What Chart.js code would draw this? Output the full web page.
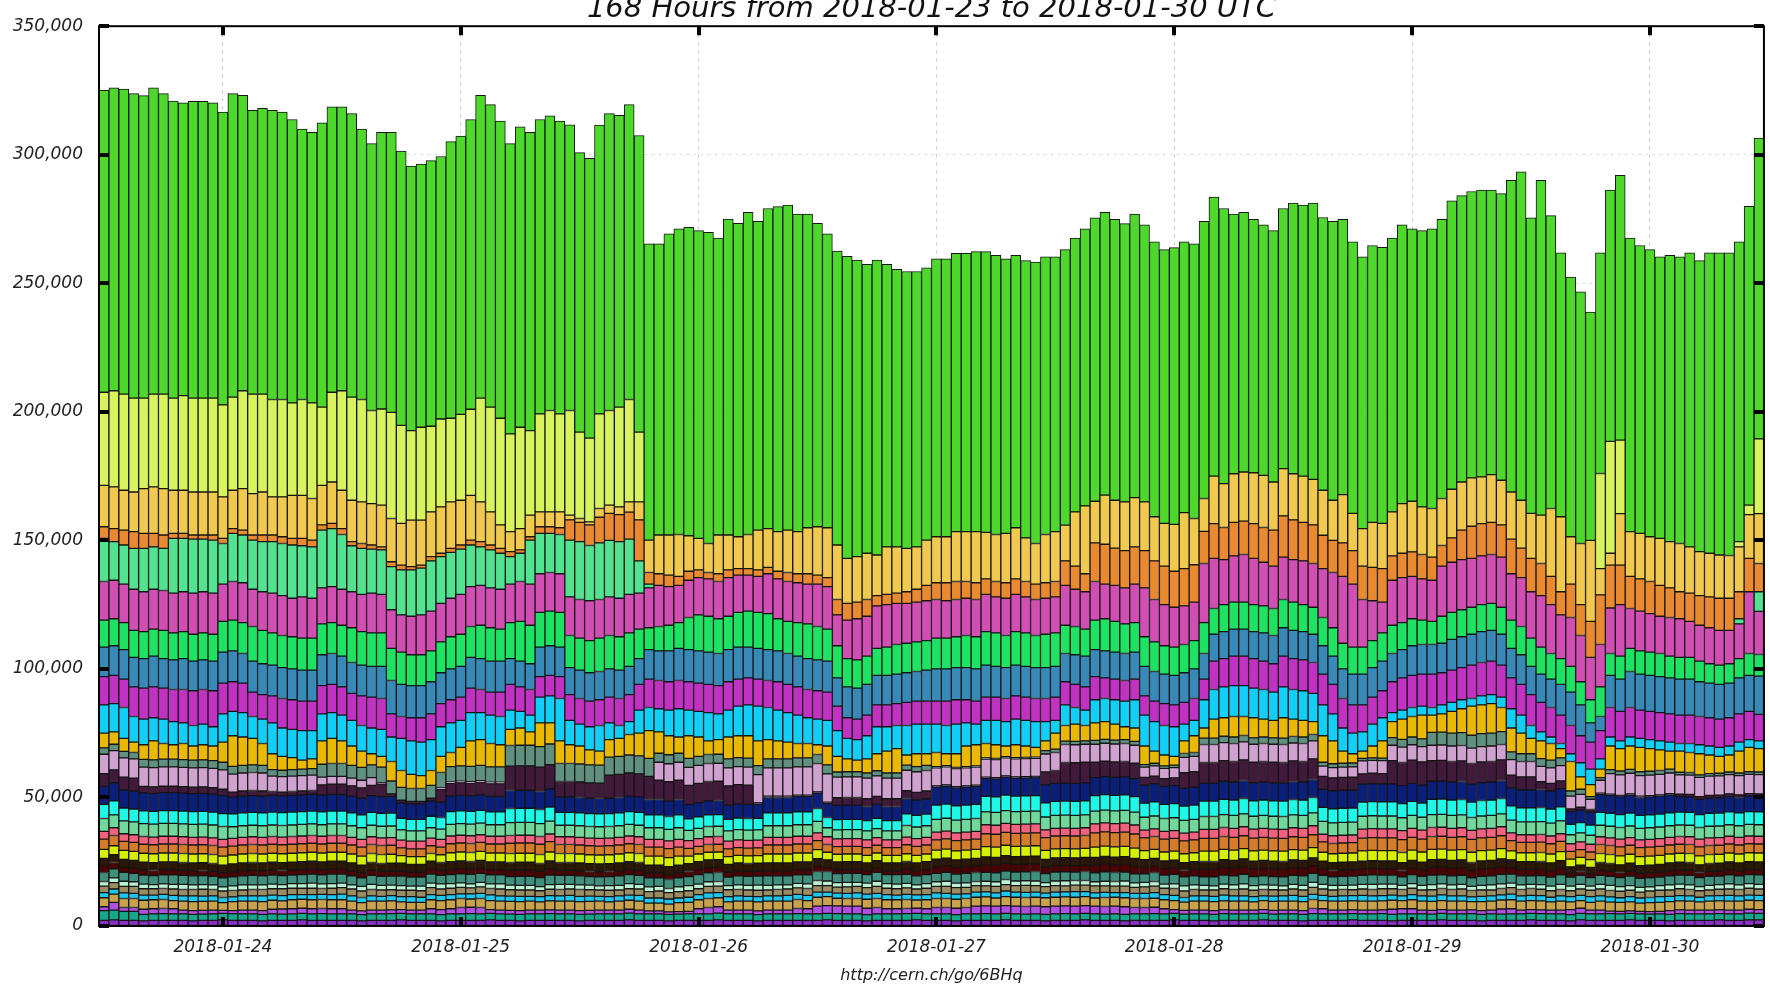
<!DOCTYPE html>
<html>
<head>
<meta charset="utf-8">
<title>168 Hours from 2018-01-23 to 2018-01-30 UTC</title>
<script src="https://cdn.jsdelivr.net/npm/chart.js@4.4.0/dist/chart.umd.min.js"></script>
<style>
  html, body { margin: 0; padding: 0; background: #fff; }
  canvas { display: block; }
</style>
</head>
<body>
<canvas id="chart" width="1770" height="987"></canvas>
<script>
// hourly bars, first bar = 2018-01-23 12:00 UTC, 168 bars
const firstHour = Date.UTC(2018, 0, 23, 12);
const barCount = 168;
const dayTicks = ['2018-01-24', '2018-01-25', '2018-01-26', '2018-01-27', '2018-01-28', '2018-01-29', '2018-01-30'];
const yTicks = [0, 50000, 100000, 150000, 200000, 250000, 300000, 350000];
const chartTitle = '168 Hours from 2018-01-23 to 2018-01-30 UTC';
const footer = 'http://cern.ch/go/6BHq';

// ---- thin bottom layers: thickness per hour, in thousands ----
const purpleLow = [
  2.2,2.4,2.2,2.2,2.0,2.2,2.2,2.2,2.2,2.0,2.2,2.2,2.4,2.2,2.2,2.2,2.0,2.2,2.2,2.2,2.4,2.2,2.2,2.2,
  2.2,2.2,2.0,2.2,2.2,2.2,2.4,2.2,2.2,2.2,2.0,2.2,2.2,2.2,2.2,2.4,2.2,2.2,2.0,2.2,2.2,2.2,2.2,2.2,
  2.0,2.2,2.2,2.2,2.2,2.4,2.2,2.2,2.2,2.0,2.2,2.2,2.2,2.2,2.4,2.2,2.2,2.2,2.0,2.2,2.2,2.2,2.2,2.2,
  2.2,2.4,2.2,2.2,2.2,2.0,2.2,2.2,2.2,2.2,2.4,2.2,2.2,2.2,2.0,2.2,2.2,2.2,2.2,2.4,2.2,2.2,2.2,2.0,
  2.2,2.2,2.2,2.4,2.2,2.2,2.2,2.0,2.2,2.2,2.2,2.2,2.4,2.2,2.2,2.2,2.0,2.2,2.2,2.2,2.2,2.4,2.2,2.2,
  2.2,2.0,2.2,2.2,2.2,2.2,2.4,2.2,2.2,2.2,2.0,2.2,2.2,2.2,2.2,2.4,2.2,2.2,2.2,2.0,2.2,2.2,2.2,2.2,
  2.4,2.2,2.2,2.2,2.0,2.4,2.2,2.2,2.2,2.2,2.4,2.2,2.2,2.2,2.0,2.2,2.2,2.2,2.2,2.4,2.2,2.2,2.4,2.4
];
const tealLow = [
  3.8,3.8,3.5,3.5,2.5,2.5,2.6,2.5,2.5,2.5,2.4,2.5,2.5,2.6,2.5,2.5,2.5,2.5,2.4,2.5,2.5,2.5,2.6,2.5,
  2.5,2.5,2.4,2.5,2.5,2.6,2.5,2.5,2.5,2.5,2.4,2.5,2.5,2.6,2.5,2.5,2.5,2.4,2.5,2.5,2.5,2.6,2.5,2.5,
  2.5,2.4,2.5,2.5,2.5,2.6,2.5,2.5,2.5,2.5,2.4,2.5,2.5,2.5,2.6,2.5,2.5,2.5,2.4,2.5,2.5,2.5,2.6,2.5,
  2.5,2.5,2.6,2.5,2.5,2.4,2.5,2.5,2.5,2.6,2.5,2.5,2.5,2.5,2.4,2.5,2.5,2.6,2.5,2.5,2.5,2.4,2.5,2.5,
  2.5,2.6,2.5,2.5,2.5,2.4,2.5,2.5,2.5,2.5,2.6,2.5,2.5,2.4,2.5,2.5,2.5,2.6,2.5,2.5,2.5,2.5,2.4,2.5,
  2.5,2.5,2.6,2.5,2.5,2.5,2.4,2.5,2.5,2.6,2.5,2.5,2.5,2.5,2.4,2.5,2.5,2.5,2.6,2.5,2.5,2.4,2.5,2.5,
  2.5,2.6,2.5,2.5,2.4,2.5,2.5,2.5,2.6,2.5,2.5,2.5,2.4,2.5,2.5,2.6,2.5,2.5,2.5,2.4,2.5,2.5,2.6,2.5
];
const violetLow = [
  1.5,3.0,1.5,1.5,2.0,2.0,2.0,2.0,1.5,1.5,1.5,1.5,1.2,1.2,1.5,1.5,1.5,1.8,2.0,2.0,2.0,2.0,2.0,2.0,
  2.0,1.5,1.5,1.5,1.5,1.5,1.5,1.5,1.5,2.0,2.0,2.0,2.5,2.5,2.5,1.5,1.5,1.5,1.5,1.5,1.5,1.5,1.5,1.5,
  1.5,1.5,1.5,1.5,1.5,1.5,1.5,1.2,1.2,1.0,1.0,1.0,2.0,2.5,2.5,1.5,1.5,1.5,1.5,1.5,1.5,1.5,2.0,2.0,
  3.0,3.0,3.0,3.0,3.0,2.5,2.5,2.0,2.0,2.0,2.0,2.0,2.5,2.5,2.5,2.5,3.0,3.0,3.0,3.0,3.0,3.0,3.0,3.0,
  3.0,3.0,3.0,3.0,3.0,3.0,3.0,3.0,2.5,2.5,2.5,2.0,1.5,1.5,1.5,1.5,1.5,1.5,1.5,1.5,1.5,1.5,1.5,1.5,
  1.5,1.5,2.0,2.0,1.5,1.5,1.5,1.5,1.5,1.5,2.0,2.0,2.0,1.5,1.5,1.5,1.5,1.5,1.5,1.5,1.5,2.0,2.0,1.5,
  1.5,1.5,1.5,1.5,2.0,2.0,1.5,1.5,1.0,1.0,1.0,1.0,1.0,1.0,1.5,1.5,1.5,1.5,1.5,1.5,1.5,1.5,1.5,1.5
];
const tanLow = [
  3.5,3.2,3.5,3.5,3.5,3.5,3.5,3.2,3.5,3.5,3.5,3.5,3.0,3.5,3.5,3.5,3.5,3.5,3.2,3.5,3.5,3.5,3.5,3.5,
  3.5,3.5,3.2,3.5,3.5,3.5,3.0,3.0,3.0,3.5,3.5,3.5,3.5,3.2,3.5,3.5,3.5,3.5,3.5,3.5,3.2,3.5,3.5,3.5,
  3.5,3.5,3.5,3.2,3.5,3.5,3.5,3.0,3.0,3.0,3.5,3.5,3.5,3.5,3.5,3.2,3.5,3.5,3.5,3.5,3.5,3.5,3.5,3.2,
  3.5,3.5,3.0,3.0,3.0,3.5,3.5,3.5,3.5,3.5,3.2,3.5,3.5,3.5,3.5,3.5,3.5,3.5,3.2,3.5,3.5,3.5,3.5,3.5,
  3.5,3.5,3.5,3.5,3.2,3.5,3.5,3.5,3.5,3.5,3.5,3.5,3.5,3.2,3.5,3.5,3.5,3.5,3.5,3.5,3.2,3.5,3.5,3.5,
  3.5,3.5,3.5,3.2,3.5,3.5,3.5,3.5,3.5,3.5,3.5,3.2,3.5,3.5,3.5,3.5,3.5,3.5,3.2,3.5,3.5,3.5,3.5,3.5,
  3.5,3.5,3.2,3.5,3.0,3.0,3.0,3.5,3.5,3.5,3.5,3.2,3.5,3.5,3.5,3.5,3.5,3.2,3.5,3.5,3.5,3.5,3.5,3.5
];
const cyanLow = [
  2.0,2.0,2.2,2.0,2.0,1.8,2.0,2.0,2.0,2.2,2.0,2.0,2.0,1.8,2.0,2.0,2.2,2.0,2.0,2.0,1.8,2.0,2.0,2.0,
  2.2,2.0,2.0,2.0,1.8,2.0,2.0,2.2,2.0,2.0,2.0,2.0,1.8,2.0,2.0,2.2,2.0,2.0,2.0,1.8,2.0,2.0,2.0,2.2,
  2.0,2.0,1.8,2.0,2.0,2.0,2.2,2.0,2.0,2.0,1.8,2.0,2.0,2.2,2.0,2.0,2.0,1.8,2.0,2.0,2.0,2.2,2.0,2.0,
  2.0,1.8,2.0,2.0,2.2,2.0,2.0,2.0,1.8,2.0,2.0,2.0,2.2,2.0,2.0,1.8,2.0,2.0,2.0,2.2,2.0,2.0,2.0,1.8,
  2.0,2.0,2.2,2.0,2.0,2.0,1.8,2.0,2.0,2.0,2.2,2.0,2.0,1.8,2.0,2.0,2.0,2.2,2.0,2.0,2.0,1.8,2.0,2.0,
  2.2,2.0,2.0,2.0,1.8,2.0,2.0,2.2,2.0,2.0,2.0,1.8,2.0,2.0,2.0,2.2,2.0,2.0,1.8,2.0,2.0,2.0,2.2,2.0,
  2.0,2.0,1.8,2.0,2.0,2.0,2.2,2.0,2.0,1.8,2.0,2.0,2.0,2.2,2.0,2.0,2.0,1.8,2.0,2.0,2.2,2.0,2.0,2.0
];
const khakiLow = [
  2.5,2.5,2.5,2.7,2.5,2.5,2.3,2.5,2.5,2.5,2.7,2.5,2.5,2.5,2.3,2.5,2.5,2.5,2.7,2.5,2.5,2.5,2.3,2.5,
  2.5,2.7,2.5,2.5,2.5,2.3,2.5,2.5,2.5,2.7,2.5,2.5,2.5,2.3,2.5,2.5,2.7,2.5,2.5,2.5,2.3,2.5,2.5,2.5,
  2.7,2.5,2.5,2.5,2.3,2.5,2.5,2.5,2.7,2.5,2.5,2.5,2.3,2.5,2.5,2.7,2.5,2.5,2.5,2.3,2.5,2.5,2.5,2.7,
  2.5,2.5,2.3,2.5,2.5,2.5,2.7,2.5,2.5,2.5,2.3,2.5,2.5,2.7,2.5,2.5,2.5,2.3,2.5,2.5,2.5,2.7,2.5,2.5,
  2.5,2.3,2.5,2.5,2.7,2.5,2.5,2.5,2.3,2.5,2.5,2.5,2.7,2.5,2.5,2.3,2.5,2.5,2.5,2.7,2.5,2.5,2.5,2.3,
  2.5,2.5,2.7,2.5,2.5,2.5,2.3,2.5,2.5,2.7,2.5,2.5,2.5,2.3,2.5,2.5,2.5,2.7,2.5,2.5,2.3,2.5,2.5,2.5,
  2.7,2.5,2.5,2.5,2.3,2.5,2.5,2.7,2.5,2.5,2.5,2.3,2.5,2.5,2.5,2.7,2.5,2.5,2.3,2.5,2.5,2.5,2.7,2.5
];
const paleMintLow = [
  1.8,1.8,2.0,1.8,1.8,1.6,1.8,1.8,2.0,1.8,1.8,1.8,1.6,1.8,2.0,1.8,1.8,1.8,1.6,1.8,1.8,2.0,1.8,1.8,
  1.8,1.6,1.8,2.0,1.8,1.8,1.8,1.6,1.8,1.8,2.0,1.8,1.8,1.6,1.8,1.8,2.0,1.8,1.8,1.8,1.6,1.8,2.0,1.8,
  1.8,1.8,1.6,1.8,1.8,2.0,1.8,1.8,1.8,1.6,1.8,2.0,1.8,1.8,1.8,1.6,1.8,1.8,2.0,1.8,1.8,1.6,1.8,1.8,
  2.0,1.8,1.8,1.8,1.6,1.8,2.0,1.8,1.8,1.8,1.6,1.8,1.8,2.0,1.8,1.8,1.6,1.8,1.8,2.0,1.8,1.8,1.8,1.6,
  1.8,2.0,1.8,1.8,1.6,1.8,1.8,2.0,1.8,1.8,1.8,1.6,1.8,2.0,1.8,1.8,1.6,1.8,1.8,2.0,1.8,1.8,1.8,1.6,
  1.8,1.8,2.0,1.8,1.8,1.6,1.8,1.8,2.0,1.8,1.8,1.6,1.8,1.8,2.0,1.8,1.8,1.8,1.6,1.8,2.0,1.8,1.8,1.8,
  1.6,1.8,1.8,2.0,1.8,1.8,1.6,1.8,2.0,1.8,1.8,1.8,1.6,1.8,2.0,1.8,1.8,1.6,1.8,1.8,2.0,1.8,1.8,1.8
];
const tealGrayLow = [
  3.5,3.5,3.5,3.3,3.5,3.5,3.5,3.7,3.5,3.5,3.5,3.3,3.5,3.5,3.5,3.7,3.5,3.5,3.5,3.3,3.5,3.5,3.5,3.7,
  3.5,3.5,3.3,3.5,3.5,3.5,3.7,3.5,3.5,3.5,3.3,3.5,3.5,3.7,3.5,3.5,3.5,3.3,3.5,3.5,3.5,3.7,3.5,3.5,
  3.5,3.3,3.5,3.5,3.7,3.5,3.5,3.5,3.3,3.5,3.5,3.5,3.7,3.5,3.5,3.3,3.5,3.5,3.5,3.7,3.5,3.5,3.3,3.5,
  3.5,3.7,3.5,3.5,3.5,3.3,3.5,3.5,3.7,3.5,3.5,3.5,3.3,3.5,3.5,3.7,3.5,3.5,3.5,3.3,3.5,3.5,3.7,3.5,
  3.5,3.5,3.3,3.5,3.5,3.7,3.5,3.5,3.5,3.3,3.5,3.5,3.7,3.5,3.5,3.3,3.5,3.5,3.5,3.7,3.5,3.5,3.3,3.5,
  3.5,3.7,3.5,3.5,3.3,3.5,3.5,3.5,3.7,3.5,3.5,3.3,3.5,3.5,3.7,3.5,3.5,3.5,3.3,3.5,3.5,3.7,3.5,3.5,
  3.3,3.5,3.5,3.7,3.5,3.5,3.3,3.5,3.5,3.5,3.7,3.5,3.5,3.3,3.5,3.5,3.7,3.5,3.5,3.3,3.5,3.5,3.5,3.7
];
const maroon = [
  2.5,2.5,2,2,2,2,2,2,2,2,2,2,2,2,2,2,2,2,2,2,2,2,2,2,
  2,2,2,2,2,2,2,2,2,2,2,2,2,2,2,2,2,2.5,2.5,2.5,2.5,2.5,2,2,
  2,2,2,2,2,2,2,2,2,2,2,2,2,2,2,2,2,2,2,2,2,2,2,2,
  2,1.5,1.5,1.5,1.5,1.5,1.5,1.5,1.5,2,2,2,2.5,2.5,2.5,2.5,2.5,3,3,3,3,3,3,2.5,
  2.5,2.5,2.5,2.5,3,3,3,3,3,2.5,2.5,2.5,2.5,2.5,2.5,3,3,3,3,3,3,3,3,3,
  3,3,3,2.5,2.5,2.5,2.5,2.5,2.5,2.5,2.5,2.5,2.5,2.5,3,3,3,3,3,3,3,3,2.5,2.5,
  2.5,2.5,2.5,2.5,1.5,1.5,1.5,2,2,2,2,2,2,2,2,2,2,2,2,2,2,2,2,2
];
const darkBrown = [
  3,3,3,3,3,3,3,3,3,3,3,3,3,3,3,3,3,3,3,3,3,3,3,3,
  3,3,3,3,3,3,3,3,3,3,3,3,3,3,3,3,3,3,3,3,3,3,3,3,
  3,3,3,3,3,3,3,3,3,3,3,3,3,3,3,3,3,3,3,3,3,3,3,3,
  3,3,3,3,3,3,3,3,3,3,3,3,3,3,3,3,3,3,3,3,3,3,3,3,
  3,3,3,3,3,3,3,3,3,3,3,3,3,3,3,3,3,3,3,3,3,3,3,3,
  3,3,3,3,3,3,3,3,3,3,3,3,3,3,3,3,3,3,3,3,3,3,3,3,
  3,3,3,3,2.5,2.5,2.5,3,3,3,3,3,3,3,3,3,3,3,3,3,3,3,3,3
];
const yellowLow = [
  3.5,3.5,3.5,3.5,3.5,3.5,3.5,3.5,3.5,3.5,3.5,3.5,3.5,3.5,3.5,3.5,3.5,3.5,3.5,3.5,3.5,3.5,3.5,3.5,
  3.5,3.5,3.5,3.5,3.5,3.5,3,3,3,3,3,3.5,3.5,3.5,3.5,3.5,3.5,3.5,3.5,3.5,3.5,3.5,3.5,3.5,
  3.5,3.5,3.5,3.5,3.5,3.5,3.5,3.5,3.5,3.5,3.5,3,3,3,3,3,3,3,3,3.5,3.5,3.5,3.5,3.5,
  3.5,3,3,3,3,3,3,3,3,3,3,3,3.5,3.5,3.5,3.5,3.5,4,4,4,4,4,4,3.5,
  3.5,3.5,3.5,3.5,4,4,4,4,4,3.5,3.5,3.5,3.5,3.5,3.5,4,4,4,4,4,4,4,4,4,
  4,4,4,3.5,3.5,3.5,3.5,4,4,4,4,4,4,4,4,4,4,4,4,4,4,4,3.5,3.5,
  3.5,3.5,3.5,3.5,3,3,3,3.5,3.5,3.5,3.5,3.5,3.5,3.5,3.5,3.5,3.5,3.5,3.5,3.5,3.5,3.5,3.5,3.5
];
const orangeLow = [
  4,4,3.5,3.5,3.5,3.5,3.5,3.5,3.5,3.5,3.5,3.5,3.5,3.5,3.5,3.5,3.5,3.5,3.5,3.5,3.5,3.5,3.5,3.5,
  3.5,3.5,3.5,3.5,3.5,3.5,3,3,3,3,3,3.5,3.5,3.5,3.5,3.5,3.5,4,4,4,4,4,3.5,3.5,
  3.5,3.5,3.5,3.5,3.5,3.5,3.5,3.5,3.5,3.5,3.5,3,3,3,3,3,3,3,3,3.5,3.5,3.5,3.5,3.5,
  3.5,3,3,3,3,3,3,3,3,3.5,3.5,3.5,4,4,4,4,4,5,5,5,5,5,5,5,
  5,5,5,5,5.5,5.5,5.5,5.5,5.5,5,5,5,5,5,5,5,5,5,5,5,5,5,5,5,
  5,5,5,4,4,4,4,5,5,5,5,5,5,5,5,5,5,5,5,5,5,5,4,4,
  4,4,4,4,3,3,3,3.5,3.5,3.5,3.5,3.5,3.5,3.5,3.5,3.5,3.5,3.5,3.5,3.5,3.5,3.5,3.5,3.5
];
const pinkRed = [
  3,3,3,3,3,3,3,3,3,3,3,3,3,3,3,3,3,3,3,3,3,3,3,3,
  3,3,3,3,3,3,3,3,3,3,3,3,3,3,3,3,3,3,3,3,3,3,3,3,
  3,3,3,3,3,3,3,3,3,3,3,3,3,3,3,3,3,3,3,3,3,3,3,3,
  3,3,3,3,3,3,3,3,3,3,3,3,3,3,3,3,3,3.5,3.5,3.5,3.5,3.5,3.5,3,
  3,3,3,3,3.5,3.5,3.5,3.5,3.5,3,3,3,3,3,3,3.5,3.5,3.5,3.5,3.5,3.5,3.5,3.5,3.5,
  3.5,3.5,3.5,3,3,3,3,3.5,3.5,3.5,3.5,3.5,3.5,3.5,3.5,3.5,3.5,3.5,3.5,3.5,3.5,3.5,3,3,
  3,3,3,3,3,3,3,3,3,3,3,3,3,3,3,3,3,3,3,3,3,3,3,3
];
const lightGreen = [
  5,5,5,5,5,5,5,5,5,5,5,5,5,4.5,4.5,4.5,4.5,4.5,4.5,4.5,4.5,4.5,4.5,4.5,
  4.5,4.5,4.5,4.5,4.5,4.5,4,4,4,4,4,4.5,4.5,4.5,4.5,4.5,4.5,5,5,5,5,5,4.5,4.5,
  4.5,4.5,4.5,4.5,4.5,4.5,4.5,4.5,4.5,4.5,4.5,4,4,4,4,4,4,4,4,4.5,4.5,4.5,4.5,4.5,
  4.5,3.5,3.5,3.5,3.5,3.5,3.5,3.5,3.5,4.5,4.5,4.5,5,5,5,5,5,5,5,5,5,5,5,5,
  5,5,5,5,5,5,5,5,5,5,5,5,5,5,5,5,5,5,5,5,5,5,5,5,
  5,5,5,5,5,5,5,5,5,5,5,5,5,5,5,5,5,5,5,5,5,5,5,5,
  5,5,5,5,3.5,3.5,3.5,4.5,4.5,4.5,4.5,4.5,4.5,4.5,4.5,4.5,4.5,4.5,4.5,4.5,4.5,4.5,4.5,4.5
];
const aqua = [
  5.5,5.5,5,5,5,5,5,5,5,5,5,5,5,5,5,5,5,5,5,5,5,5,5,5,
  5,5,5,5,5,5,4.5,4.5,4.5,4.5,4.5,5,5,5,5,5,5,5.5,5.5,5.5,5.5,5.5,5,5,
  5,5,5,5,5,5,5,5,5,5,5,4.5,4.5,4.5,4.5,4.5,4.5,4.5,4.5,5,5,5,5,5,
  5,4,4,4,4,4,4,4,4,4.5,4.5,4.5,5.5,5.5,5.5,5.5,5.5,6,6,6,6,6,6,5.5,
  5.5,5.5,5.5,5.5,6,6,6,6,6,5.5,5.5,5.5,5.5,5.5,5.5,6,6,6,6,6,6,6,6,6,
  6,6,6,5.5,5.5,5.5,5.5,5.5,5.5,5.5,5.5,5.5,5.5,5.5,6,6,6,6,6,6,6,6,5.5,5.5,
  5.5,5.5,5.5,5.5,4,4,4,5,5,5,5,5,5,5,5,5,5,5,5,5,5,5,5,5
];
const navy = [
  7,7,7,7,7,7,7,7,7,7,7,7,7,6.5,6.5,6.5,6.5,6.5,6.5,6.5,6.5,6.5,6.5,6.5,
  6.5,6.5,6.5,6.5,6.5,6.5,6,6,6,6,6,6,6,6,6,6,6,7,7,7,7,7,6,6,
  6,6,6,6,6,6,6,6,6,6,6,5.5,5.5,5.5,5.5,5.5,5.5,5.5,5.5,6,6,6,6,6,
  6,5.5,5.5,5.5,5.5,5.5,5.5,5.5,5.5,6,6,6,7,7,7,7,7,7,7,7,7,7,7,7,
  7,7,7,7,7,7,7,7,7,7,7,7,7,7,7,7,7,7,7,7,7,7,7,7,
  7,7,7,7,7,7,7,7,7,7,7,7,7,7,7,7,7,7,7,7,7,7,7,7,
  7,7,7,7,5,5,5,7,7,7,7,7,7,7,7,6,6,6,6,6,6,6,6,6
];
const plum = [
  5,5,5,5,2.5,2.5,2.5,2.5,2.5,2.5,2.5,2.5,2.5,2,2,2,2,1.5,1.5,1.5,1.5,1.5,4,4,
  4,4,4,4,5,1,1,1,1,1,5,5,5,5,5,5,5,9.5,9.5,9.5,9.5,9.5,6,6,
  6,6,6,9,9,9,9,9,7.5,7.5,7.5,7.5,7.5,7.5,7.5,7.5,7.5,7.5,0.5,0.5,0.5,0.5,0.5,0.5,
  0.5,0.5,3,3,3,3,3,3,3,3,3,3,0.5,0.5,0.5,0.5,0.5,0.5,0.5,0.5,0.5,0.5,0.5,5,
  5,8,8,8,6,6,6,6,6,3,3,3,3,6,6,8,8,8,8,8,8,8,8,8,
  8,8,8,5,5,5,5,4,4,4,9,9,9,9,8,8,8,8,8,8,8,8,5,5,
  5,3,3,3,1,1,1,0.5,0.5,0.5,0.5,0.5,0.5,0.5,0.5,1,1,1,1,1,1,1,1,1
];
const lilac = [
  7.5,7.5,7.5,7.5,7.5,7.5,7.5,7.5,7.5,7.5,7.5,7.5,7.5,7,7,7,7,6,6,6,6,6,3,3,
  3,3,3,3,0.5,0,0,0,0,0,0.5,0.5,0.5,0.5,0.5,0.5,0.5,0,0,0,0,0,0,0,
  0,0,0,0,0,0,0,0,7,7,7,7,7,7,7,7,7,7,11,11,11,11,11,11,
  11,11,8,8,8,8,8,8,8,8,8,8,7,7,7,7,7,7,7,7,7,7,7,7,
  7,7,7,7,7,7,7,7,7,4,4,4,4,6,6,7,7,7,7,7,7,7,7,7,
  7,7,7,4,4,4,4,5,5,5,6,6,6,6,6,6,6,6,6,6,6,6,6,6,
  6,6,6,6,5,5,4,5,8,8,8,8,8,8,8,7.5,7.5,7.5,7.5,7.5,7.5,7.5,7.5,7.5
];
const grayGreen = [
  2.5,2.5,2.5,2.5,3,3,3,3,3,3,3,3,3,3,3,3,3,2.5,2.5,2.5,2.5,2.5,5,5,
  5,5,5,5,6,5,5,5,5,5,6,6,6,6,6,6,6,8,8,8,8,8,7,7,
  7,7,7,7,7,7,7,7,3.5,3.5,3.5,3.5,3.5,3.5,3.5,3.5,3.5,3.5,3.5,3.5,3.5,3.5,3.5,3.5,
  3.5,3.5,2,2,2,2,2,2,2,2,2,2,0.5,0.5,0.5,0.5,0.5,0.5,0.5,0.5,0.5,0.5,0.5,1.3,
  1.3,1.3,1.3,1.3,1.5,1.5,1.5,1.5,1.5,1,1,1,1,1.5,1.5,2.5,2.5,2.5,2.5,2.5,2.5,2.5,2.5,2.5,
  2.5,2.5,2.5,1.5,1.5,1.5,1.5,1,1,1,3,3,3,3,5,5,5,5,5,5,5,5,3,3,
  3,3,3,3,2,2,1,1,1.5,1.5,1.5,1.5,1.5,1.5,1.5,1,1,1,1,1,1,1,1,1
];

// ---- upper layers: top edge of each layer per hour, in thousands ----
const goldTop = [
  75.0,75.5,73.0,71.5,70.5,72.0,71.0,70.5,71.0,70.0,70.5,70.0,71.5,74.0,73.5,73.0,71.0,67.0,66.0,65.5,64.5,65.0,72.0,73.0,
  72.0,70.0,68.0,67.0,66.0,64.0,60.5,59.0,58.5,60.5,66.0,67.5,69.5,72.0,72.5,71.0,70.5,76.5,77.0,75.5,79.0,79.0,72.0,70.5,
  70.0,68.5,68.0,72.5,73.0,74.5,75.0,76.0,75.5,74.0,73.5,74.0,73.5,72.0,72.5,73.5,74.0,74.0,72.0,72.5,72.0,71.5,71.0,71.0,
  70.5,70.0,66.0,65.0,64.5,65.0,67.0,68.0,69.0,66.5,67.0,67.0,67.5,67.0,67.0,70.0,70.5,71.0,70.5,70.0,70.5,70.0,69.5,72.0,
  75.0,78.0,78.5,78.0,79.0,79.5,78.5,77.5,77.0,70.0,68.0,66.5,66.0,72.0,74.0,77.0,80.5,81.0,81.5,81.5,81.0,80.5,80.0,81.0,
  80.5,80.0,79.5,74.0,72.0,68.0,67.0,68.0,70.0,72.0,79.5,80.5,81.5,82.0,82.0,82.5,83.5,84.5,85.5,86.0,86.5,85.0,77.0,75.0,
  73.0,72.0,71.0,69.0,64.0,58.0,55.0,61.0,70.0,69.0,70.0,69.5,69.0,68.5,68.0,68.0,67.5,67.0,66.5,66.0,66.5,68.0,69.5,69.0
];
const skyTop = [
  86.0,86.5,85.0,81.5,80.5,81.0,80.5,79.5,79.0,78.0,78.5,77.5,82.5,83.5,83.0,81.5,80.5,79.0,77.0,76.5,76.0,76.0,82.5,83.0,
  82.0,80.0,78.0,77.0,76.5,73.5,73.0,72.0,71.5,72.5,77.5,79.0,80.0,83.0,83.0,82.0,81.5,84.0,83.5,82.0,89.0,89.5,88.5,80.0,
  78.5,77.5,78.0,79.0,78.0,79.5,84.0,85.0,84.5,84.0,84.5,84.0,83.5,83.0,82.5,84.0,85.5,86.0,85.5,85.0,84.0,83.0,82.0,81.0,
  80.5,80.0,76.0,73.0,72.5,74.0,77.5,77.5,78.0,78.0,78.5,78.5,78.5,78.0,78.5,79.0,78.5,80.0,80.0,79.5,80.5,80.0,79.5,79.5,
  80.0,86.0,85.0,84.0,88.0,88.5,88.0,87.5,88.0,82.0,79.5,78.0,77.5,78.5,80.0,88.0,92.0,93.0,93.5,93.5,92.5,92.0,91.0,93.0,
  92.0,91.5,90.5,86.0,82.5,77.0,75.0,75.5,78.5,81.0,83.0,84.0,85.0,85.5,85.0,86.0,87.0,88.0,88.5,89.5,90.0,89.0,84.5,82.0,
  78.0,75.5,73.5,71.0,67.0,63.5,61.0,65.0,73.5,72.0,73.5,73.0,72.5,72.0,71.5,71.0,71.0,70.5,70.0,69.5,70.0,71.5,72.5,72.0
];
const magentaTop = [
  97.0,97.5,96.0,93.0,92.5,93.0,92.5,92.0,92.0,91.5,92.0,91.5,94.5,95.0,94.5,91.0,90.0,89.5,88.5,88.0,87.5,87.5,93.5,94.0,
  93.0,90.5,89.5,89.0,88.5,82.5,81.5,81.0,81.0,82.5,86.5,88.0,89.0,92.5,92.0,91.0,91.0,94.0,93.0,92.0,97.0,97.5,97.0,90.0,
  88.5,87.5,88.0,89.0,88.5,90.0,94.0,96.0,95.5,95.0,95.5,95.0,94.5,94.0,93.5,95.0,96.0,96.5,96.0,95.5,95.0,94.0,93.0,92.0,
  91.5,91.0,85.5,81.0,80.5,82.0,86.0,86.0,86.5,87.0,87.5,87.5,87.5,87.5,88.0,88.0,87.5,89.0,89.0,88.5,89.5,89.0,88.5,88.5,
  89.0,95.0,94.0,93.0,97.0,96.5,96.0,95.5,96.0,89.5,87.5,86.5,86.0,87.0,88.5,96.0,103.0,104.0,105.0,105.0,104.0,103.0,102.0,105.0,
  104.0,103.5,102.5,98.0,94.0,88.5,86.0,86.0,89.0,91.5,95.0,96.5,97.5,98.0,98.0,98.5,99.5,100.5,101.5,102.5,103.0,101.5,96.5,94.0,
  90.0,87.0,85.0,82.0,78.0,74.0,71.5,76.0,85.0,83.5,85.0,84.0,83.5,83.0,82.5,82.0,82.0,81.5,81.0,80.5,81.0,82.5,83.5,82.3
];
const steelTop = [
  108.5,109.0,107.5,104.5,104.0,105.0,104.0,103.5,104.0,103.0,103.5,103.0,106.5,107.0,106.0,103.0,102.0,101.5,100.5,100.0,99.5,99.5,105.5,106.0,
  105.0,102.5,101.5,101.0,101.0,95.5,94.0,93.5,93.5,95.0,98.5,100.0,101.0,104.5,104.0,103.0,103.0,104.0,103.0,102.0,108.5,109.0,108.5,100.5,
  99.5,98.5,99.0,100.0,99.5,101.0,104.0,107.5,107.0,107.0,108.0,107.5,107.0,106.5,106.0,107.5,108.5,108.5,108.0,107.5,107.0,106.0,105.0,104.0,
  103.5,103.0,96.5,93.0,92.5,94.0,97.5,97.5,98.0,98.5,99.0,99.5,100.0,100.0,100.5,100.5,100.0,101.5,101.0,100.5,101.5,101.0,100.5,100.5,
  101.0,106.0,105.5,105.0,107.5,107.0,106.5,106.0,106.5,101.0,99.0,98.0,97.5,98.5,100.0,106.0,113.5,114.5,115.5,115.5,114.5,114.0,113.0,116.0,
  115.0,114.5,113.5,109.0,105.0,100.0,98.0,98.0,100.5,103.0,106.0,107.5,109.0,109.5,109.5,110.0,111.5,112.5,113.5,114.5,115.0,113.5,108.0,105.5,
  101.0,98.0,96.0,94.0,91.0,86.0,79.0,81.5,97.5,96.0,99.0,98.0,97.5,97.0,96.5,96.0,96.0,95.0,94.5,94.0,94.5,96.5,97.5,97.2
];
const greenTop = [
  119.0,119.5,118.0,115.0,114.5,115.5,115.0,114.0,114.5,113.5,114.0,113.5,118.5,119.0,118.0,116.5,115.0,114.0,113.0,112.5,112.0,112.0,117.5,118.0,
  117.0,116.0,114.5,114.0,114.0,108.0,106.5,105.5,105.5,107.0,110.5,112.5,113.5,116.5,117.0,116.0,115.5,118.0,118.5,117.0,122.0,122.5,122.0,113.0,
  112.0,111.0,112.0,113.0,112.5,114.0,115.5,116.0,116.5,117.0,118.0,120.0,121.0,120.5,119.5,120.5,122.0,122.5,122.0,121.5,119.5,118.5,118.0,117.5,
  116.5,115.5,109.0,104.0,103.5,105.0,108.0,108.5,109.5,110.0,110.5,111.0,112.0,112.0,112.5,113.0,112.5,114.5,114.0,113.0,114.5,114.0,113.0,113.5,
  114.0,117.0,116.5,115.5,119.0,119.5,118.5,117.5,118.0,112.5,110.5,109.0,108.5,109.5,111.0,118.0,123.5,125.0,126.0,126.0,125.0,124.5,123.5,127.0,
  126.0,125.0,124.0,120.0,116.0,110.0,108.5,108.5,111.0,114.0,117.0,118.0,119.5,119.0,118.5,120.5,122.0,123.0,124.0,125.0,125.5,124.0,119.0,116.5,
  112.0,108.5,106.0,104.0,101.0,95.0,88.0,93.0,106.0,105.0,108.0,107.0,106.5,106.0,105.0,104.5,104.5,103.0,102.0,101.5,102.0,104.0,106.0,105.6
];
const pinkTop = [
  134.0,134.5,133.0,131.0,130.0,131.0,130.5,129.5,130.0,129.5,130.0,129.5,133.0,134.0,133.5,131.0,130.0,129.5,128.5,127.5,128.0,127.5,131.5,132.0,
  131.0,130.0,129.0,129.5,129.0,123.0,121.0,120.5,121.0,122.5,125.5,127.5,129.0,132.0,132.5,131.5,131.0,133.0,134.0,133.0,137.0,137.5,137.0,128.0,
  127.0,126.5,127.0,128.0,127.5,129.0,129.5,131.5,132.5,132.0,132.5,134.5,135.5,135.0,134.0,135.5,136.5,136.5,136.0,137.0,135.0,134.0,133.5,133.0,
  133.0,132.0,121.0,119.0,119.5,120.5,124.5,125.0,125.5,125.5,126.0,126.5,127.0,126.5,127.0,127.5,127.0,129.0,128.0,127.5,129.0,128.0,127.0,127.5,
  128.0,132.5,131.0,130.0,134.0,133.0,132.5,131.5,133.0,131.5,127.0,125.0,124.0,124.5,126.0,141.0,143.0,142.5,144.0,144.5,143.0,141.5,140.0,143.5,
  142.5,142.0,141.0,139.0,137.5,136.0,133.0,127.0,126.5,126.0,134.5,135.5,136.0,135.0,134.5,140.0,141.5,142.5,143.0,144.0,144.5,143.5,137.0,135.5,
  130.0,128.5,125.0,121.0,120.0,113.0,104.5,109.5,123.7,125.0,123.5,122.5,121.5,120.5,120.0,119.5,118.5,117.0,116.0,115.0,115.0,117.5,130.0,122.4
];
const mintTop = [
  150.8,149.5,148.2,146.9,146.9,147.5,146.9,150.8,150.8,150.5,150.5,150.1,148.8,152.7,152.1,150.1,149.5,149.5,148.8,148.2,147.9,147.5,154.0,154.6,
  152.3,147.9,146.9,146.6,146.3,139.8,138.5,138.5,139.2,142.0,143.7,145.3,146.6,148.2,147.5,146.3,145.0,143.7,145.0,150.1,152.7,152.7,152.3,150.1,
  149.5,148.0,149.0,150.0,149.5,150.5,142.0,133.0,132.5,132.0,132.5,134.5,135.5,135.0,134.0,135.5,136.5,136.5,136.0,137.0,135.0,134.0,133.5,133.0,
  133.0,132.0,121.0,119.0,119.5,120.5,124.5,125.0,125.5,125.5,126.0,126.5,127.0,126.5,127.0,127.5,127.0,129.0,128.0,127.5,129.0,128.0,127.0,127.5,
  128.0,132.5,131.0,130.0,134.0,133.0,132.5,131.5,133.0,131.5,127.0,125.0,124.0,124.5,126.0,141.0,143.0,142.5,144.0,144.5,143.0,141.5,140.0,143.5,
  142.5,142.0,141.0,139.0,137.5,136.0,133.0,127.0,126.5,126.0,134.5,135.5,136.0,135.0,134.5,140.0,141.5,142.5,143.0,144.0,144.5,143.5,137.0,135.5,
  130.0,128.5,125.0,121.0,120.0,113.0,104.5,109.5,123.7,125.0,123.5,122.5,121.5,120.5,120.0,119.5,118.5,117.0,116.0,115.0,115.0,119.5,130.0,130.0
];
const orangeTop = [
  155.3,154.6,154.0,153.4,152.7,152.7,152.1,152.7,152.7,152.1,152.1,152.1,150.8,154.6,154.0,152.1,152.1,152.1,151.4,150.8,150.8,150.1,156.0,156.6,
  154.6,149.5,148.8,148.2,147.5,141.7,140.4,139.8,140.4,143.7,145.0,146.9,148.2,150.1,149.5,148.2,146.9,145.6,146.3,151.4,155.3,155.3,154.9,158.0,
  157.0,156.0,159.0,160.5,160.0,161.0,158.0,137.5,137.0,136.5,136.0,138.0,138.5,137.5,137.0,138.5,139.0,139.0,138.5,139.5,138.0,137.5,137.0,137.0,
  136.5,135.5,127.0,125.5,126.0,127.0,128.5,129.0,129.5,130.0,131.0,132.5,133.5,133.5,134.0,134.0,133.5,135.0,134.0,133.5,135.0,134.0,133.0,133.5,
  134.0,142.0,140.0,137.0,149.0,148.5,147.0,146.0,147.5,146.0,142.0,140.0,138.0,139.0,140.5,153.5,156.5,155.0,157.0,157.5,156.5,155.0,154.0,159.5,
  158.0,157.0,156.0,152.0,150.0,149.0,146.0,140.0,139.5,139.0,144.0,145.0,145.5,144.5,143.5,148.0,151.0,154.0,155.5,156.5,157.0,156.0,150.5,147.0,
  143.0,141.0,136.0,130.0,133.0,125.0,118.5,128.8,140.4,140.4,136.0,135.0,134.0,132.5,131.5,130.0,129.5,128.5,128.0,127.5,127.5,130.0,143.0,141.0
];
const yellowTop = [
  171.4,170.8,169.5,168.8,170.1,170.8,170.1,169.5,169.5,168.8,168.8,168.8,166.9,169.5,170.1,168.2,168.8,166.9,166.9,167.5,167.5,166.3,171.4,172.7,
  169.5,165.6,165.0,164.3,163.7,158.5,156.6,157.9,157.9,161.1,163.0,165.0,165.6,167.5,165.0,161.1,156.0,153.4,154.6,159.8,161.1,161.1,161.1,159.8,
  158.5,157.2,162.4,163.7,163.0,165.0,165.0,150.1,152.1,152.1,152.3,151.8,150.8,148.8,152.1,152.1,151.4,152.3,154.0,154.6,153.4,154.0,153.4,154.9,
  155.3,154.9,148.2,143.0,143.7,145.0,144.3,147.5,147.5,146.9,147.5,150.1,151.4,151.4,153.4,153.4,153.4,153.1,152.3,152.7,154.9,151.0,148.8,152.3,
  153.4,155.9,161.1,163.4,165.2,167.6,165.6,165.0,166.6,165.0,159.2,156.6,156.2,160.8,158.5,166.3,175.0,172.1,175.9,176.6,176.3,175.3,172.7,177.9,
  175.9,175.0,173.7,169.5,165.6,167.8,160.5,154.6,157.0,156.6,161.1,164.3,165.2,163.0,162.4,166.3,169.9,172.7,174.3,174.7,175.6,173.4,168.8,165.6,
  160.5,159.8,162.4,159.2,151.4,148.8,150.0,139.0,145.0,160.4,153.4,152.7,151.4,150.8,149.5,148.8,147.5,145.6,145.0,144.3,144.1,147.5,160.0,160.4
];
const limeTop = [
  207.6,208.2,206.9,205.3,205.3,206.9,206.9,205.3,206.3,205.3,205.3,205.3,202.7,205.7,208.2,206.9,206.9,204.8,204.8,203.5,204.8,203.5,201.8,207.6,
  208.2,205.7,204.8,200.5,201.1,199.8,194.7,192.7,194.0,194.4,197.2,197.5,199.0,201.0,205.3,201.8,197.5,191.4,194.0,192.7,199.2,200.5,199.2,200.5,
  192.1,189.8,199.2,200.5,201.8,204.8,192.1,150.1,152.1,152.1,152.3,151.8,150.8,148.8,152.1,152.1,151.4,152.3,154.0,154.6,153.4,154.0,153.4,154.9,
  155.3,154.9,148.2,143.0,143.7,145.0,144.3,147.5,147.5,146.9,147.5,150.1,151.4,151.4,153.4,153.4,153.4,153.1,152.3,152.7,154.9,151.0,148.8,152.3,
  153.4,155.9,161.1,163.4,165.2,167.6,165.6,165.0,166.6,165.0,159.2,156.6,156.2,160.8,158.5,166.3,175.0,172.1,175.9,176.6,176.3,175.3,172.7,177.9,
  175.9,175.0,173.7,169.5,165.6,167.8,160.5,154.6,157.0,156.6,161.1,164.3,165.2,163.0,162.4,166.3,169.9,172.7,174.3,174.7,175.6,173.4,168.8,165.6,
  160.5,159.8,162.4,159.2,151.4,148.8,150.0,176.0,188.5,189.0,153.4,152.7,151.4,150.8,149.5,148.8,147.5,145.6,145.0,144.3,144.1,149.5,163.7,189.5
];
const totalTop = [
  325.1,326.0,325.5,323.8,323.0,326.0,323.8,320.9,320.2,320.8,320.8,320.2,316.6,323.8,323.1,317.3,318.1,317.3,316.6,313.7,310.0,308.7,312.4,318.6,
  318.6,316.0,310.0,304.3,308.7,308.7,301.4,295.6,296.4,297.7,299.3,305.1,307.3,313.7,323.1,319.5,313.1,304.3,310.9,308.7,313.7,315.1,313.1,311.6,
  300.8,298.6,311.5,316.0,315.3,319.5,307.5,265.3,265.3,269.2,271.2,271.8,270.5,269.8,267.6,275.0,273.3,277.6,274.1,279.1,279.8,280.4,276.9,276.9,
  273.3,269.2,262.5,260.5,259.0,257.4,259.0,257.4,255.4,254.6,254.6,256.0,259.5,259.5,261.7,261.7,262.3,262.3,260.9,259.5,260.9,258.8,258.2,260.3,
  260.3,263.1,267.6,271.2,275.5,277.6,274.9,273.2,276.9,272.7,266.1,263.1,263.9,266.1,265.3,274.1,283.5,279.1,276.9,277.6,274.9,272.7,270.5,279.1,
  281.2,280.4,281.2,275.6,274.1,274.9,266.1,260.3,264.7,264.0,267.6,272.7,271.2,270.5,271.2,274.9,282.1,284.1,285.7,286.3,286.3,284.9,290.0,293.4,
  275.5,290.0,276.3,261.8,252.4,246.7,238.8,261.8,286.3,292.0,267.6,264.7,263.1,260.3,260.9,260.3,261.8,258.8,261.8,261.8,261.8,266.1,279.9,306.5
];

// bottom-up stacking order
const thinLayers = [
  ['Layer 01', '#8a2fc6', purpleLow],
  ['Layer 02', '#13a88b', tealLow],
  ['Layer 03', '#b04fe2', violetLow],
  ['Layer 04', '#c9a24c', tanLow],
  ['Layer 05', '#1ac8f0', cyanLow],
  ['Layer 06', '#9c8c62', khakiLow],
  ['Layer 07', '#b8f2d2', paleMintLow],
  ['Layer 08', '#3f8f7d', tealGrayLow],
  ['Layer 09', '#4a0202', maroon],
  ['Layer 10', '#2a1804', darkBrown],
  ['Layer 11', '#d6f000', yellowLow],
  ['Layer 12', '#d57c2a', orangeLow],
  ['Layer 13', '#f2627e', pinkRed],
  ['Layer 14', '#6fd89a', lightGreen],
  ['Layer 15', '#1ef8e6', aqua],
  ['Layer 16', '#0a1f7a', navy],
  ['Layer 17', '#41193a', plum],
  ['Layer 18', '#d0a2d0', lilac],
  ['Layer 19', '#5f9080', grayGreen]
];
const edgeLayers = [
  ['Layer 20', '#e9b800', goldTop],
  ['Layer 21', '#12cff8', skyTop],
  ['Layer 22', '#c232c2', magentaTop],
  ['Layer 23', '#3889b8', steelTop],
  ['Layer 24', '#1ee262', greenTop],
  ['Layer 25', '#d14fb2', pinkTop],
  ['Layer 26', '#52e290', mintTop],
  ['Layer 27', '#e98a30', orangeTop],
  ['Layer 28', '#f0c94e', yellowTop],
  ['Layer 29', '#d8f35e', limeTop],
  ['Layer 30', '#4ed82c', totalTop]
];

const labels = [];
for (let i = 0; i < barCount; i++) {
  labels.push(new Date(firstHour + i * 3600000).toISOString().slice(0, 16).replace('T', ' '));
}

function barSet(label, color, data) {
  return {
    label, data,
    backgroundColor: color,
    borderColor: '#141414',
    borderWidth: 1,
    borderSkipped: false,
    barPercentage: 1,
    categoryPercentage: 1
  };
}

const datasets = [];
let below = new Array(barCount).fill(0);
thinLayers.forEach(([name, color, arr]) => {
  datasets.push(barSet(name, color, arr.map(v => v * 1000)));
  below = below.map((b, i) => b + arr[i]);
});
edgeLayers.forEach(([name, color, top]) => {
  datasets.push(barSet(name, color, top.map((t, i) => Math.max(0, t - below[i]) * 1000)));
  below = below.map((b, i) => Math.max(b, top[i]));
});

const fontFamily = '"DejaVu Sans", "Liberation Sans", sans-serif';
const isDayStart = i => labels[i] && labels[i].endsWith(' 00:00');

const framePlugin = {
  id: 'frame',
  afterDraw(chart) {
    const { ctx, chartArea: a, scales: { x, y } } = chart;
    ctx.save();
    ctx.strokeStyle = '#000';
    ctx.lineWidth = 2;
    ctx.strokeRect(a.left, a.top, a.right - a.left, a.bottom - a.top);
    ctx.fillStyle = '#000';
    labels.forEach((lab, i) => {
      if (!isDayStart(i)) return;
      const px = Math.round(x.getPixelForValue(i));
      ctx.fillRect(px - 2, a.top, 4, 9);
      ctx.fillRect(px - 2, a.bottom - 9, 4, 9);
    });
    yTicks.forEach(v => {
      const py = Math.round(y.getPixelForValue(v));
      ctx.fillRect(a.left, py - 2, 10, 4);
      ctx.fillRect(a.right - 10, py - 2, 10, 4);
    });
    ctx.fillStyle = '#111';
    ctx.textAlign = 'center';
    ctx.textBaseline = 'alphabetic';
    ctx.font = 'italic 29px ' + fontFamily;
    ctx.fillText(chartTitle, (a.left + a.right) / 2, 17);
    ctx.font = 'italic 16px ' + fontFamily;
    ctx.fillStyle = '#222';
    ctx.textBaseline = 'middle';
    ctx.fillText(footer, (a.left + a.right) / 2, 976);
    ctx.restore();
  }
};

new Chart(document.getElementById('chart'), {
  type: 'bar',
  data: { labels, datasets },
  options: {
    responsive: false,
    animation: false,
    layout: { padding: { top: 21, right: 6, left: 0, bottom: 0 } },
    plugins: { legend: { display: false }, tooltip: { enabled: false }, title: { display: false } },
    scales: {
      x: {
        stacked: true,
        grid: {
          offset: false,
          drawTicks: false,
          color: c => (c.index !== undefined && isDayStart(c.index)) ? '#c9c9c9' : 'rgba(0,0,0,0)',
          lineWidth: 1
        },
        border: { display: false, dash: [3, 5] },
        ticks: {
          autoSkip: false,
          maxRotation: 0,
          padding: 11,
          color: '#222',
          font: { family: fontFamily, size: 17, style: 'italic' },
          callback: (v, i) => isDayStart(i) ? labels[i].slice(0, 10) : ''
        },
        afterFit: s => { s.height = 61; }
      },
      y: {
        stacked: true,
        min: 0,
        max: 350000,
        grid: { drawTicks: false, color: '#d6d6d6', lineWidth: 1 },
        border: { display: false, dash: [2, 5] },
        ticks: {
          stepSize: 50000,
          padding: 16,
          color: '#222',
          font: { family: fontFamily, size: 17, style: 'italic' },
          callback: v => v.toLocaleString('en-US')
        },
        afterFit: s => { s.width = 99; }
      }
    }
  },
  plugins: [framePlugin]
});
</script>
</body>
</html>
